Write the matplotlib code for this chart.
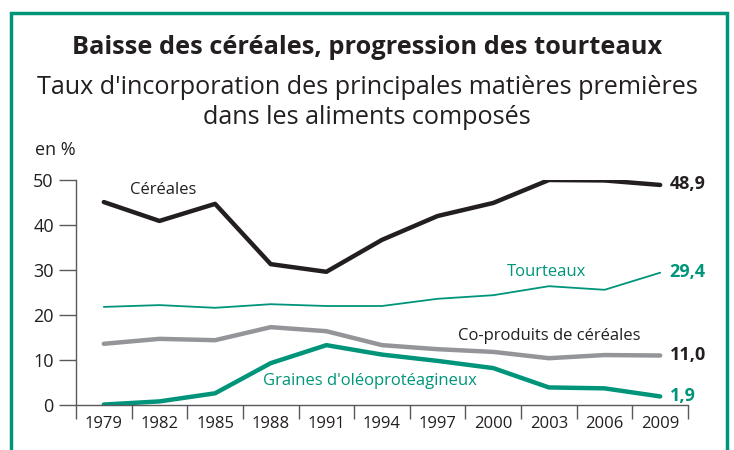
import matplotlib
matplotlib.use('Agg')
import matplotlib.pyplot as plt
from matplotlib.patches import Rectangle
from matplotlib import font_manager

# 数据
years = ['1979', '1982', '1985', '1988', '1991', '1994', '1997', '2000', '2003', '2006', '2009']
cereales = [45.1, 40.9, 44.7, 31.3, 29.6, 36.7, 42.0, 44.9, 50.0, 49.9, 48.9]
tourteaux = [21.8, 22.2, 21.6, 22.4, 22.0, 22.0, 23.6, 24.4, 26.4, 25.6, 29.4]
coproduits = [13.6, 14.7, 14.4, 17.3, 16.4, 13.3, 12.4, 11.8, 10.4, 11.1, 11.0]
graines = [0.1, 0.8, 2.6, 9.3, 13.3, 11.2, 9.8, 8.2, 3.9, 3.7, 1.9]
yticks = [0, 10, 20, 30, 40, 50]

BLACK = '#231f20'
GREEN = '#00957a'
GRAY = '#949598'

names = {f.name for f in font_manager.fontManager.ttflist}
fam = ['Liberation Sans Narrow', 'Open Sans', 'DejaVu Sans']
fam = [f for f in fam if f in names]
plt.rcParams['font.family'] = fam

fig = plt.figure(figsize=(7.34, 4.5), dpi=100)
fig.patches.append(Rectangle((11 / 734, -0.1), 716 / 734, 1 - 13 / 450 + 0.1,
                             transform=fig.transFigure, fill=False,
                             edgecolor=GREEN, linewidth=2.5))

fig.text(0.5, 1 - 48 / 450, 'Baisse des céréales, progression des tourteaux',
         ha='center', va='center', fontsize=18.3, fontweight='bold', color=BLACK)
fig.text(0.5, 1 - 88 / 450, "Taux d'incorporation des principales matières premières",
         ha='center', va='center', fontsize=18.1, color=BLACK)
fig.text(0.5, 1 - 118 / 450, 'dans les aliments composés',
         ha='center', va='center', fontsize=18.1, color=BLACK)
fig.text(35 / 734, 1 - 150 / 450, 'en %', ha='left', va='center', fontsize=13, color=BLACK)

ax = fig.add_axes([76 / 734, 45 / 450, 612 / 734, 225 / 450])
x = list(range(len(years)))

ax.plot(x, tourteaux, color=GREEN, lw=1.3, solid_capstyle='round')
ax.plot(x, coproduits, color=GRAY, lw=3.2, solid_capstyle='round')
ax.plot(x, graines, color=GREEN, lw=3.2, solid_capstyle='round')
ax.plot(x, cereales, color=BLACK, lw=3.2, solid_capstyle='round')

ax.set_xlim(-0.5, len(years) - 0.5)
ax.set_ylim(0, 50)
for s in ['top', 'right']:
    ax.spines[s].set_visible(False)
for s in ['left', 'bottom']:
    ax.spines[s].set_color('#58595b')
    ax.spines[s].set_linewidth(1)

ax.set_yticks(yticks)
ax.tick_params(axis='y', length=12, width=1, color='#58595b', pad=4,
               labelsize=13, labelcolor=BLACK)
ax.set_xticks([i - 0.5 for i in range(len(years) + 1)])
ax.set_xticklabels([])
ax.tick_params(axis='x', which='major', length=10, width=1, color='#58595b')
ax.set_xticks(x, minor=True)
ax.set_xticklabels(years, minor=True)
ax.tick_params(axis='x', which='minor', length=0, pad=8, labelsize=12, labelcolor=BLACK)

# 标注
ax.text(0.47, 47.8, 'Céréales', fontsize=12, color=BLACK, ha='left', va='center')
ax.text(7.25, 29.6, 'Tourteaux', fontsize=12, color=GREEN, ha='left', va='center')
ax.text(6.37, 15.3, 'Co-produits de céréales', fontsize=12, color=BLACK, ha='left', va='center')
ax.text(2.86, 5.3, "Graines d'oléoprotéagineux", fontsize=12, color=GREEN, ha='left', va='center')

last = len(years) - 1
for vals, col in [(cereales, BLACK), (tourteaux, GREEN), (coproduits, BLACK), (graines, GREEN)]:
    ax.text(last + 0.17, vals[-1] + 0.2, f'{vals[-1]:.1f}'.replace('.', ','),
            fontsize=13, fontweight='bold', color=col, ha='left', va='center', clip_on=False)

fig.savefig('out.png', dpi=100)
